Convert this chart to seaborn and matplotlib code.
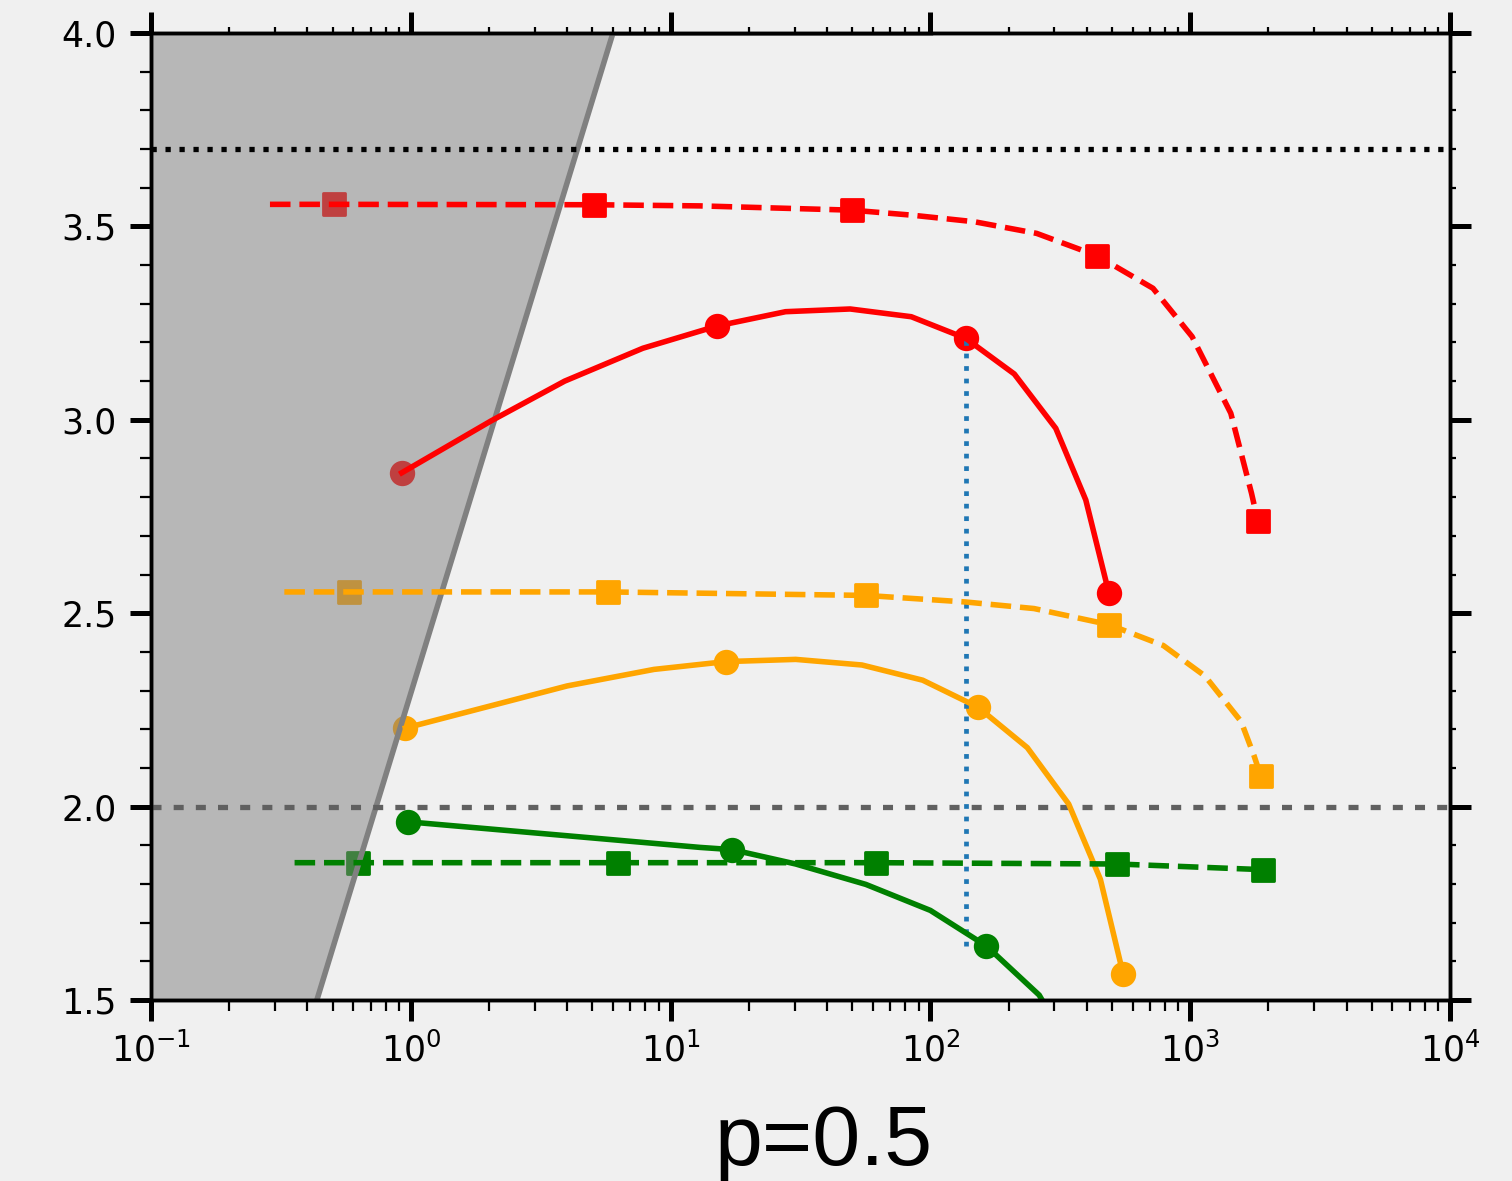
import numpy as np
import pandas as pd
import matplotlib
matplotlib.use("Agg")
import matplotlib.pyplot as plt
from matplotlib.ticker import MultipleLocator
import seaborn as sns

# ---------------- data ----------------
red_dash_x = [0.287, 0.506, 5.07, 13.0, 49.8, 85.1, 147.8, 256.3, 438.6, 719, 1017, 1433, 1722, 1820]
red_dash_y = [3.557, 3.557, 3.556, 3.553, 3.542, 3.529, 3.512, 3.482, 3.424, 3.340, 3.215, 3.017, 2.810, 2.739]
red_dash_marks = [1, 2, 4, 8, 13]

red_solid_x = [0.923, 2.035, 3.91, 7.82, 15.09, 27.7, 49.1, 84.4, 136.7, 210.4, 303.8, 396.4, 486.9]
red_solid_y = [2.863, 2.997, 3.100, 3.185, 3.2425, 3.2795, 3.2865, 3.2665, 3.2107, 3.1184, 2.978, 2.7927, 2.551]
red_solid_marks = [0, 4, 8, 12]

orange_dash_x = [0.326, 0.577, 5.74, 56.4, 136.7, 250.6, 487, 788, 1140, 1570, 1762, 1872]
orange_dash_y = [2.555, 2.555, 2.555, 2.546, 2.529, 2.512, 2.4705, 2.4165, 2.3376, 2.22, 2.131, 2.078]
orange_dash_marks = [1, 2, 3, 6, 11]

orange_solid_x = [0.953, 4.0, 8.63, 16.33, 30.3, 54.5, 93.4, 152.5, 236, 340.6, 451, 551.7]
orange_solid_y = [2.203, 2.312, 2.3547, 2.3749, 2.3806, 2.3661, 2.3268, 2.257, 2.1525, 2.0067, 1.8123, 1.5677]
orange_solid_marks = [0, 3, 7, 11]

green_dash_x = [0.357, 0.629, 6.29, 61.7, 524.6, 1906]
green_dash_y = [1.855, 1.855, 1.855, 1.855, 1.8516, 1.837]
green_dash_marks = [1, 2, 3, 4, 5]

green_solid_x = [0.9755, 12.98, 17.23, 30.3, 56.4, 100, 164.3, 262.3, 400]
green_solid_y = [1.9607, 1.8945, 1.8888, 1.8516, 1.7989, 1.7316, 1.6396, 1.5127, 1.30]
green_solid_marks = [0, 2, 6]

# excluded (shaded) region boundary
bound_x = [0.435, 6.0, 100.0]
bound_y = [1.5, 4.0, 4.0]
left_edge_x = 0.1

# reference lines
hline_black_y = 3.7
hline_gray_y = 2.0
vline_x = 136.7
vline_y = [1.64, 3.2107]

xticks_range = (0.1, 1e4)
yticks_range = (1.5, 4.0)
label_text = "p=0.5"

# ---------------- figure ----------------
BG = "#f0f0f0"
plt.rcParams["font.family"] = ["DejaVu Sans"]
plt.rcParams["axes.linewidth"] = 1.2

fig = plt.figure(figsize=(7.56, 5.905), dpi=200, facecolor=BG)
ax = fig.add_axes([151 / 1512, 1 - 1000 / 1181, 1299 / 1512, 967 / 1181])
ax.set_facecolor(BG)
ax.set_xscale("log")

series = [
    (red_dash_x, red_dash_y, red_dash_marks, "red", "--", "s"),
    (red_solid_x, red_solid_y, red_solid_marks, "red", "-", "o"),
    (orange_dash_x, orange_dash_y, orange_dash_marks, "orange", "--", "s"),
    (orange_solid_x, orange_solid_y, orange_solid_marks, "orange", "-", "o"),
    (green_dash_x, green_dash_y, green_dash_marks, "green", "--", "s"),
    (green_solid_x, green_solid_y, green_solid_marks, "green", "-", "o"),
]

for xs, ys, marks, col, ls, mk in series:
    df = pd.DataFrame({"x": xs, "y": ys})
    sns.lineplot(data=df, x="x", y="y", ax=ax, color=col, linestyle=ls,
                 linewidth=2.0, estimator=None, sort=False, zorder=4)
    mdf = df.iloc[marks]
    sns.scatterplot(data=mdf, x="x", y="y", ax=ax, color=col, marker=mk,
                    s=66, edgecolor=col, linewidth=1.0, zorder=1, legend=False)

# shaded excluded region (semi-transparent gray, above markers, below lines)
ax.fill_betweenx(bound_y[:2], [left_edge_x, left_edge_x], bound_x[:2],
                 color="gray", alpha=0.5, linewidth=0, zorder=2)
sns.lineplot(x=bound_x, y=bound_y, ax=ax, color="gray", linewidth=2.0,
             estimator=None, sort=False, zorder=2.5)

# reference lines
ax.axhline(hline_black_y, color="black", linestyle=":", linewidth=1.9, zorder=3)
ax.axhline(hline_gray_y, color="#606060", linewidth=1.9, dashes=(1.9, 2.3), zorder=3)
sns.lineplot(x=[vline_x, vline_x], y=vline_y, ax=ax, color="#1f77b4",
             linestyle=":", linewidth=1.7, estimator=None, sort=False, zorder=3)

ax.set_xlim(*xticks_range)
ax.set_ylim(*yticks_range)
ax.yaxis.set_major_locator(MultipleLocator(0.5))
ax.yaxis.set_minor_locator(MultipleLocator(0.1))
ax.set_xlabel("")
ax.set_ylabel("")

# top and right axes (shorter minor ticks)
ax_t = ax.twiny()
ax_t.set_xscale("log")
ax_t.set_xlim(*xticks_range)
ax_t.tick_params(axis="x", which="major", direction="out", length=7.5, width=1.8,
                 top=True, bottom=False, labeltop=False, labelbottom=False)
ax_t.tick_params(axis="x", which="minor", direction="out", length=2.2, width=0.8,
                 top=True, bottom=False)

ax_r = ax.twinx()
ax_r.set_ylim(*yticks_range)
ax_r.yaxis.set_major_locator(MultipleLocator(0.5))
ax_r.yaxis.set_minor_locator(MultipleLocator(0.1))
ax_r.tick_params(axis="y", which="major", direction="out", length=7.5, width=1.8,
                 right=True, left=False, labelright=False, labelleft=False)
ax_r.tick_params(axis="y", which="minor", direction="out", length=2.2, width=0.8,
                 right=True, left=False)

ax.tick_params(axis="both", which="major", direction="out", length=7.5, width=1.8,
               top=False, right=False, labelsize=12.5, colors="black")
ax.tick_params(axis="y", which="major", pad=5)
ax.tick_params(axis="x", which="major", pad=4)
ax.tick_params(axis="both", which="minor", direction="out", length=4, width=0.8,
               top=False, right=False)

for a in (ax, ax_t, ax_r):
    for sp in a.spines.values():
        sp.set_color("black")
        sp.set_linewidth(1.2)

fig.text(824 / 1512, 16 / 1181, label_text, ha="center", va="baseline",
         fontsize=31, family=["Liberation Sans", "DejaVu Sans"])

fig.savefig("out.png", dpi=200, facecolor=BG)
